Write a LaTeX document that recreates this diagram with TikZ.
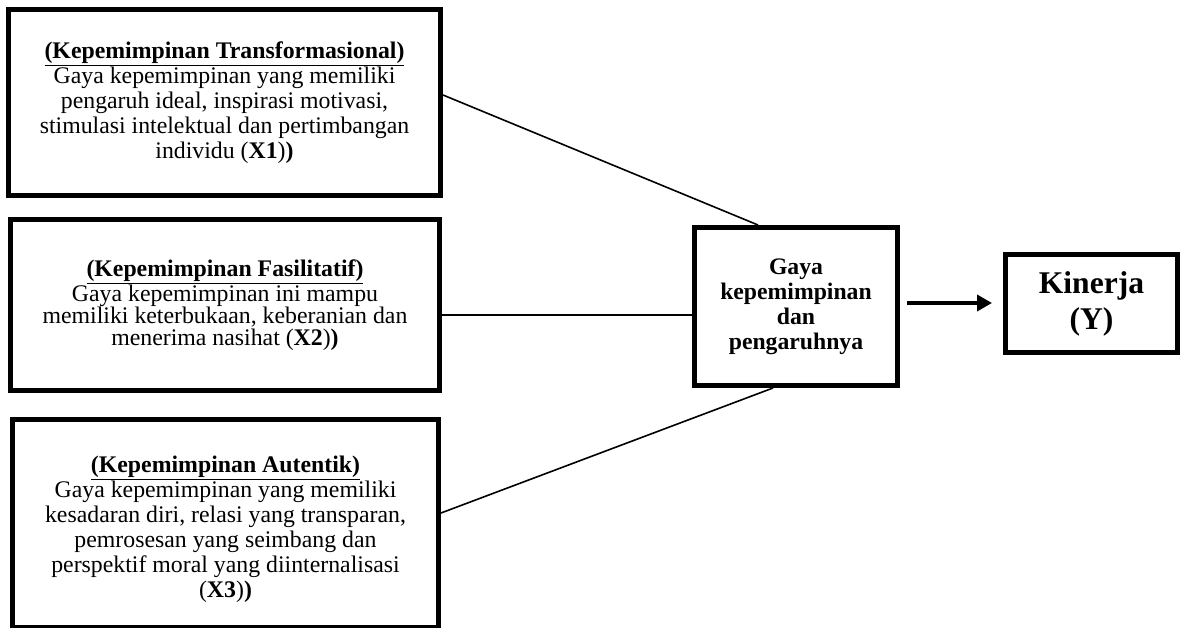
\documentclass[tikz,border=0pt]{standalone}
\usepackage{fontspec}
\setmainfont{Liberation Serif}
\usetikzlibrary{arrows.meta}
\begin{document}
\begin{tikzpicture}[x=1pt,y=-1pt,
  box/.style={draw, line width=5pt, rectangle, inner sep=0pt, align=center,
    font=\fontsize{23.8}{22}\selectfont},
  boxtext/.style={inner sep=0pt, align=center, font=\fontsize{23.8}{25}\selectfont},
  conn/.style={line width=1.6pt},
  flow/.style={line width=4.5pt, -{Triangle[length=15pt,width=16pt]}}]
\useasboundingbox (0,0) rectangle (1185,628);

\node[box, font=\fontsize{23.8}{25}\selectfont, minimum width=432pt, minimum height=186pt] (b1) at (224.5,102.5)
  {\underline{\textbf{(Kepemimpinan Transformasional)}}\\
   Gaya kepemimpinan yang memiliki\\
   pengaruh ideal, inspirasi motivasi,\\
   stimulasi intelektual dan pertimbangan\\
   individu (\textbf{X1})\textbf{)}};

\node[box, minimum width=429pt, minimum height=171pt] (b2) at (225,305)
  {\underline{\textbf{(Kepemimpinan Fasilitatif)}}\\
   Gaya kepemimpinan ini mampu\\
   memiliki keterbukaan, keberanian dan\\
   menerima nasihat (\textbf{X2})\textbf{)}};

\node[box, minimum width=426pt, minimum height=208pt] (b3) at (225.5,523.5) {};
\node[boxtext] (t3) at ([yshift=-6pt]b3.center)
  {\underline{\textbf{(Kepemimpinan Autentik)}}\\
   Gaya kepemimpinan yang memiliki\\
   kesadaran diri, relasi yang transparan,\\
   pemrosesan yang seimbang dan\\
   perspektif moral yang diinternalisasi\\
   (\textbf{X3})\textbf{)}};

\node[box, font=\bfseries\fontsize{23.7}{25}\selectfont, minimum width=203pt, minimum height=158pt] (m) at (796,306.5)
  {Gaya\\kepemimpinan\\dan\\pengaruhnya};

\node[box, font=\bfseries\fontsize{31.6}{36}\selectfont, minimum width=172pt, minimum height=98pt] (k) at (1091.5,303.5)
  {Kinerja\\(Y)};

\draw[conn] ([yshift=7.5pt]b1.east) -- ([xshift=-38pt]m.north);
\coordinate (c2) at ([yshift=-10pt]b2.east);
\draw[conn] (c2) -- (c2 -| m.west);
\draw[conn] ([yshift=10.5pt]b3.east) -- ([xshift=-23pt]m.south);

\coordinate (a1) at ([yshift=3.5pt]m.east);
\draw[flow, shorten <=7pt, shorten >=11pt] (a1) -- (a1 -| k.west);
\end{tikzpicture}
\end{document}
